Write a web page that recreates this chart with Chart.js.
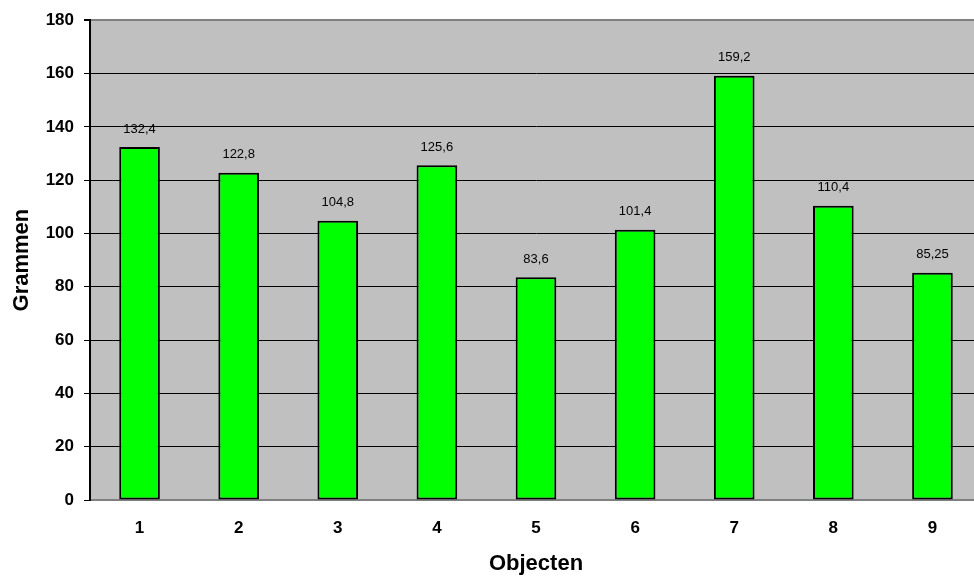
<!DOCTYPE html>
<html>
<head>
<meta charset="utf-8">
<script src="https://cdn.jsdelivr.net/npm/chart.js@4.4.1/dist/chart.umd.min.js"></script>
<style>
  html, body { margin: 0; padding: 0; background: #ffffff; overflow: hidden; }
  /* the plot runs a few pixels past the right edge of the frame */
  #wrap { width: 974px; height: 580px; overflow: hidden; }
  #chart { display: block; }
</style>
</head>
<body>
<div id="wrap"><canvas id="chart" width="982" height="580"></canvas></div>
<script>
// Gewicht per object (gram)
const objecten = ['1', '2', '3', '4', '5', '6', '7', '8', '9'];
const grammen = [132.4, 122.8, 104.8, 125.6, 83.6, 101.4, 159.2, 110.4, 85.25];
const yTicks = [0, 20, 40, 60, 80, 100, 120, 140, 160, 180];

const FONT = '"Liberation Sans", Arial, Helvetica, sans-serif';

// Grey plot background
const plotBackground = {
  id: 'plotBackground',
  beforeDraw(chart) {
    const { ctx, chartArea: a } = chart;
    ctx.save();
    ctx.fillStyle = '#c0c0c0';
    ctx.fillRect(a.left, a.top, a.right - a.left, a.bottom - a.top);
    ctx.restore();
  }
};

// Value printed above every bar, decimal comma
const valueLabels = {
  id: 'valueLabels',
  afterDatasetsDraw(chart) {
    const { ctx } = chart;
    const meta = chart.getDatasetMeta(0);
    const data = chart.data.datasets[0].data;
    ctx.save();
    ctx.font = '13px ' + FONT;
    ctx.fillStyle = '#000000';
    ctx.textAlign = 'center';
    ctx.textBaseline = 'middle';
    meta.data.forEach((bar, i) => {
      ctx.fillText(String(data[i]).replace('.', ','), bar.x, bar.y - 18);
    });
    ctx.restore();
  }
};

new Chart(document.getElementById('chart'), {
  type: 'bar',
  data: {
    labels: objecten,
    datasets: [{
      data: grammen,
      backgroundColor: '#00ff00',
      borderColor: '#000000',
      borderWidth: 2,
      borderSkipped: false,
      categoryPercentage: 1,
      barPercentage: 0.41
    }]
  },
  options: {
    responsive: false,
    animation: false,
    layout: { padding: { top: 20, right: 0, left: 0, bottom: 0 } },
    plugins: {
      legend: { display: false },
      tooltip: { enabled: false }
    },
    scales: {
      x: {
        grid: { display: false, drawTicks: false, tickLength: 0 },
        border: { display: true, color: '#808080', width: 2 },
        ticks: {
          color: '#000000',
          padding: 18,
          font: { family: FONT, size: 17, weight: 'bold' }
        },
        title: {
          display: true,
          text: 'Objecten',
          color: '#000000',
          padding: { top: 0, bottom: 3 },
          font: { family: FONT, size: 22, weight: 'bold' }
        },
        afterFit(scale) { scale.height = 80; }
      },
      y: {
        min: 0,
        max: 180,
        afterBuildTicks(scale) { scale.ticks = yTicks.map(v => ({ value: v })); },
        grid: {
          color: ctx => (ctx.tick && ctx.tick.value === 180) ? '#808080' : '#000000',
          lineWidth: ctx => (ctx.tick && ctx.tick.value === 180) ? 2 : 1,
          tickColor: '#000000',
          tickLength: 6,
          drawTicks: true
        },
        border: { display: true, color: '#000000', width: 2 },
        ticks: {
          color: '#000000',
          padding: 10,
          font: { family: FONT, size: 17, weight: 'bold' }
        },
        title: {
          display: true,
          text: 'Grammen',
          color: '#000000',
          padding: { top: 9, bottom: 0 },
          font: { family: FONT, size: 22, weight: 'bold' }
        },
        afterFit(scale) { scale.width = 90; }
      }
    }
  },
  plugins: [plotBackground, valueLabels]
});
</script>
</body>
</html>
